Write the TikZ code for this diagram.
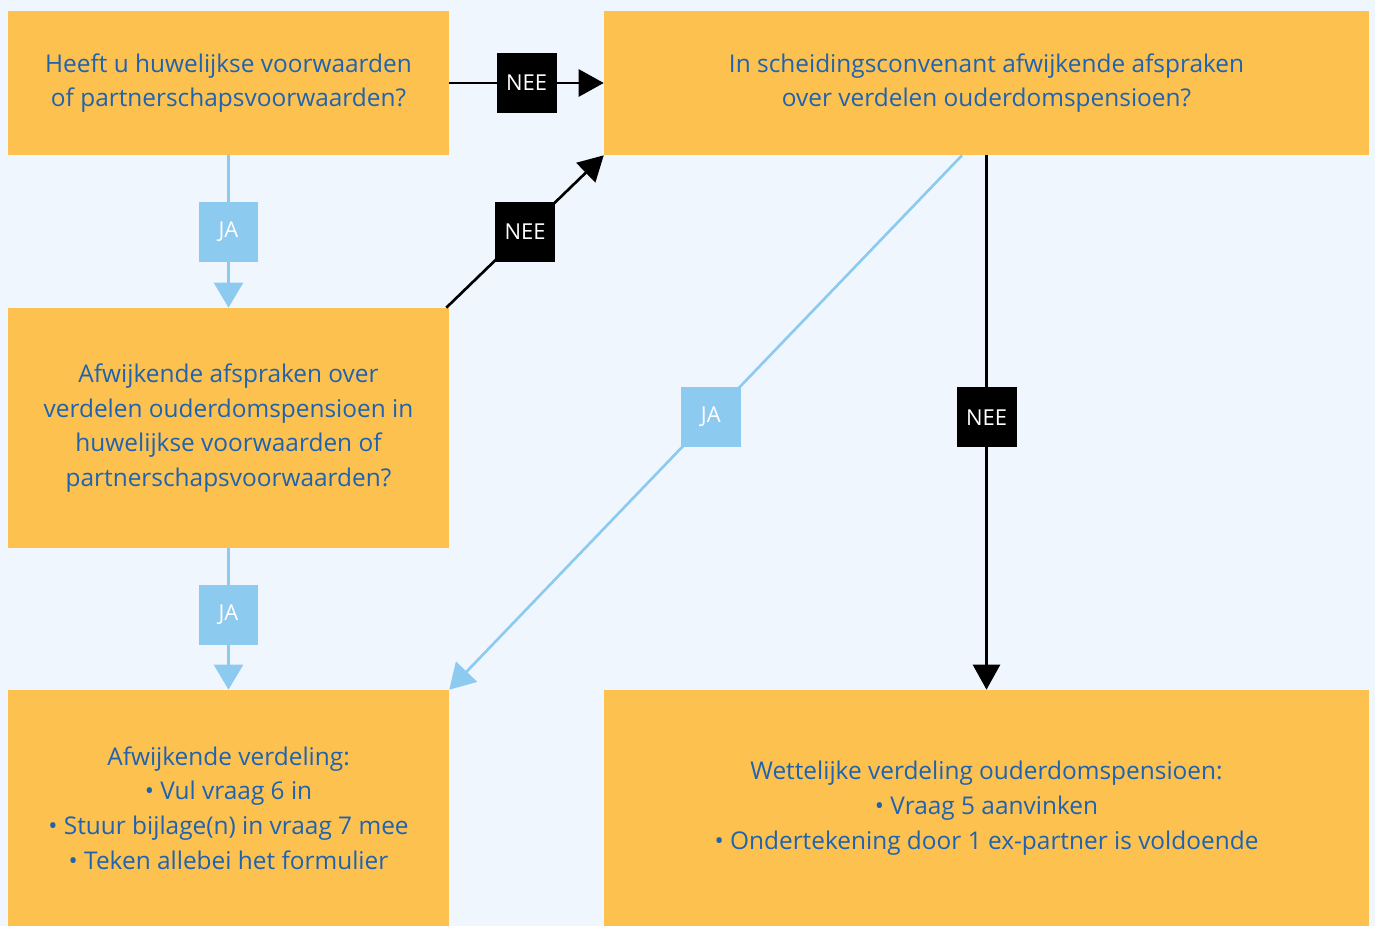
\documentclass[tikz,border=0pt]{standalone}
\usepackage{fontspec}
\setmainfont{Open Sans}
\usetikzlibrary{arrows.meta}
\definecolor{bgblue}{HTML}{F0F6FE}
\definecolor{boxorange}{HTML}{FDC150}
\definecolor{textblue}{HTML}{1F63B0}
\definecolor{jablue}{HTML}{8DCAF0}
\begin{document}
\begin{tikzpicture}[x=0.02cm,y=-0.02cm,
        qbox/.style={fill=boxorange,text=textblue,align=center,inner sep=0pt,
            font=\fontsize{13.9pt}{19.8pt}\selectfont},
        smallq/.style={qbox,minimum width=8.82cm},
        wideq/.style={qbox,minimum width=15.3cm},
        tag/.style={minimum size=1.2cm,inner sep=0pt,text=white,
            font=\fontsize{12.5pt}{14pt}\selectfont},
        nee/.style={tag,fill=black},
        ja/.style={tag,fill=jablue},
        neearrow/.style={draw=black,line width=1.5pt,-{Triangle[length=0.5cm,width=0.54cm]}},
        jaarrow/.style={draw=jablue,line width=1.5pt,-{Triangle[length=0.5cm,width=0.58cm]}}]
        \fill[bgblue] (0,0) rectangle (1375,926);
        \useasboundingbox (0,0) rectangle (1375,926);

        \node[smallq,minimum height=2.88cm] (huw) at (228.5,83)
            {Heeft u huwelijkse voorwaarden\\of partnerschapsvoorwaarden?};
        \node[wideq,minimum height=2.88cm] (conv) at (986.5,83)
            {In scheidingsconvenant afwijkende afspraken\\over verdelen ouderdomspensioen?};
        \node[smallq,minimum height=4.8cm] (afsp) at (228.5,428)
            {Afwijkende afspraken over\\verdelen ouderdomspensioen in\\huwelijkse voorwaarden of\\partnerschapsvoorwaarden?};
        \node[smallq,minimum height=4.72cm] (afw) at (228.5,808)
            {Afwijkende verdeling:\\• Vul vraag 6 in\\• Stuur bijlage(n) in vraag 7 mee\\• Teken allebei het formulier};
        \node[wideq,minimum height=4.72cm] (wet) at (986.5,808)
            {Wettelijke verdeling ouderdomspensioen:\\• Vraag 5 aanvinken\\• Ondertekening door 1 ex-partner is voldoende};

        \draw[neearrow] (huw.east) -- node[nee] {NEE} (conv.west);
        \draw[jaarrow] (huw.south) -- node[ja] {JA} (afsp.north);
        \draw[neearrow] ([xshift=-0.06cm]afsp.north east) -- node[nee] {NEE} (conv.south west);
        \draw[jaarrow] (afsp.south) -- node[ja,pos=0.47] {JA} (afw.north);
        \draw[jaarrow] ([xshift=-0.49cm]conv.south) -- node[ja,pos=0.49] {JA} (afw.north east);
        \draw[neearrow] (conv.south) -- node[nee,pos=0.49] {NEE} (wet.north);
    \end{tikzpicture}
\end{document}
